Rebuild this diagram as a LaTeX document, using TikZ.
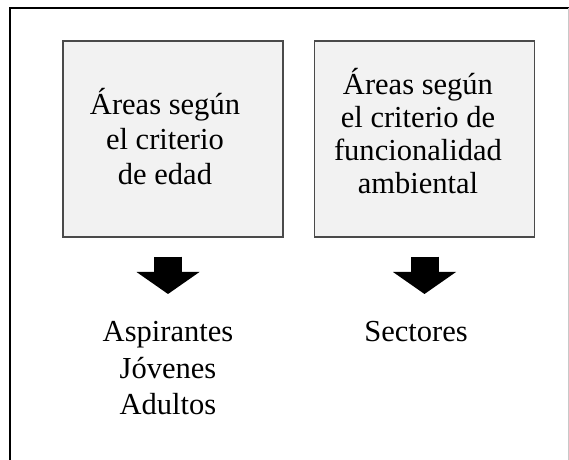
\documentclass[tikz,border=0pt]{standalone}
\usepackage{fontspec}
\setmainfont{Liberation Serif}
\usetikzlibrary{arrows.meta}

\begin{document}
\begin{tikzpicture}[x=0.75pt,y=0.75pt,yscale=-1,xscale=1,
  areabox/.style={draw={rgb, 255:red, 74; green, 74; blue, 74 }, fill={rgb, 255:red, 242; green, 242; blue, 242 }, line width=1.1pt, minimum width=165pt, minimum height=147pt, inner sep=0pt},
  labeltext/.style={font=\fontsize{22.9pt}{#1}\selectfont, align=center, inner sep=0pt, anchor=north},
  labeltext/.default=26pt,
  bigarrow/.style={line width=21pt, -{Triangle[width=47.25pt,length=16.5pt,line width=0pt]}}]
\useasboundingbox (0,0) rectangle (569,460);

%Straight Lines (frame)
\draw [line width=1.5pt]   (10,460) -- (10,8) -- (569,8) ;
\draw [color={rgb, 255:red, 200; green, 200; blue, 200 }]   (568.5,8) -- (568.5,460) ;

%Shape: Rectangle
\node [areabox] (box1) at (173,139) {};
%Shape: Rectangle
\node [areabox] (box2) at (424.5,139) {};

% Text Node
\node [labeltext=26.25pt] (edad) at (165,88) {Áreas según\\el criterio\\de edad};
% Text Node
\node [labeltext=24.75pt] (ambiente) at (418,68) {Áreas según\\el criterio de\\funcionalidad\\ambiental};
% Text Node
\node [labeltext=27.4pt] (grupos) at (168,321) {Aspirantes\\Jóvenes\\Adultos};
% Text Node
\node [labeltext] (sectores) at (416,321) {Sectores};

%Block Arrows
\draw [bigarrow, shorten <=14.25pt, shorten >=20.25pt]   (box1.south -| grupos.north) -- (grupos.north) ;
\draw [bigarrow, shorten <=14.25pt, shorten >=20.25pt]   (box2.south) -- (box2.south |- sectores.north) ;
\end{tikzpicture}
\end{document}
